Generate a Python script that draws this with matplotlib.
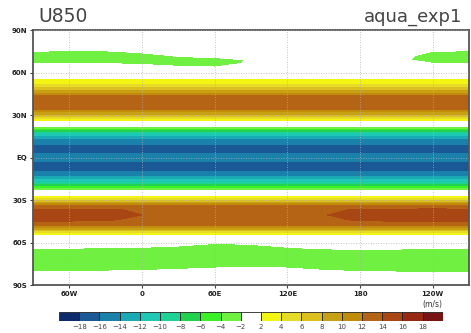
"""U850 aqua_exp1: lat-lon shaded zonal wind in GrADS style."""

import matplotlib

matplotlib.use("Agg")

import matplotlib.pyplot as plt  # noqa: E402
import numpy as np  # noqa: E402

# zonal profile (north to south)
lat_nodes = [90, 84, 78, 75, 72, 69, 66.5, 63, 59, 55.5,
             52, 49, 46, 43, 40, 37, 34, 31, 28, 26,
             24, 22, 20, 18, 16, 14, 11, 8, 5, 2.5,
             0, -2.5, -5, -8, -10.5, -13, -15.5, -18, -20.5, -23,
             -25, -27, -29.5, -32, -34, -37, -40.5, -44, -47, -49.5,
             -52, -54.5, -57, -61, -64, -67, -72, -77, -80.5, -84,
             -90]
u_zonal = [0.5, 0, -1, -2, -3.2, -3.2, -2, -0.5, 0.8, 2,
           4, 6.5, 9.5, 12.6, 13.6, 13.5, 12, 9, 5, 2,
           0, -2, -5, -8.5, -11.5, -13.5, -15, -16.5, -16.8, -15.5,
           -15.2, -15.6, -16.8, -16.6, -15.5, -14, -12, -9, -5.5, -2,
           0, 2, 5.5, 9.5, 12, 13.8, 14.3, 13.6, 13.0, 10.5,
           6, 2, 0.5, -1, -2, -3, -3.5, -3, -2, -1,
           0]

# longitudes of the rows below (90W .. 90W going east)
lon_nodes = [-90, -60, -30, 0, 30, 60, 90, 120, 150, 180, 210, 240, 270]

# rows that change with longitude (polar easterlies, southern jet core)
u_rows = {
    75: [-1.9, -2.3, -2.1, -1.6, -1.2, -1.0, -0.8, -0.6, -0.6, -0.7, -1.0, -2.0, -2.1],
    72: [-3.0, -3.2, -3.1, -2.6, -1.8, -1.6, -1.3, -0.9, -0.8, -0.9, -1.2, -2.7, -3.0],
    69: [-3.2, -3.3, -3.2, -3.0, -2.6, -2.4, -1.9, -1.2, -1.0, -1.1, -1.5, -2.8, -3.1],
    66.5: [-1.95, -2.1, -2.1, -2.3, -2.6, -2.6, -1.8, -1.2, -1.0, -1.0, -1.3, -2.0, -1.9],
    63: [-0.5, -0.6, -0.7, -1.0, -1.6, -1.8, -1.2, -0.6, -0.5, -0.5, -0.6, -0.7, -0.5],
    -37: [14.5, 14.4, 14.2, 13.8, 13.5, 13.5, 13.5, 13.5, 13.6, 14.2, 14.5, 14.6, 14.5],
    -40.5: [15.3, 15.3, 14.9, 14.0, 13.8, 13.8, 13.8, 13.8, 13.9, 14.9, 15.3, 15.4, 15.3],
    -44: [14.5, 14.4, 14.2, 13.6, 13.4, 13.4, 13.4, 13.4, 13.6, 14.2, 14.5, 14.6, 14.5],
    -61: [-1.0, -1.0, -1.1, -1.2, -1.5, -2.1, -1.9, -1.3, -1.0, -0.9, -0.9, -1.0, -1.0],
    -64: [-2.0, -2.0, -2.1, -2.2, -2.5, -2.8, -2.7, -2.2, -1.8, -1.6, -1.7, -2.0, -2.0],
    -77: [-3.0, -3.0, -2.9, -2.7, -2.5, -2.2, -2.1, -2.2, -2.6, -2.9, -3.0, -3.1, -3.1],
    -80.5: [-2.1, -2.0, -1.9, -1.8, -1.6, -1.5, -1.5, -1.5, -1.8, -2.0, -2.1, -2.2, -2.3],
}

levels = [-18, -16, -14, -12, -10, -8, -6, -4, -2, 2, 4, 6, 8, 10, 12, 14, 16, 18]
level_colors = [
    "#0c2a6c", "#1a5896", "#1a82aa", "#1aaab4", "#1ec8b4", "#1ed296",
    "#20d250", "#3cf028", "#70f040", "#ffffff", "#f5f514", "#e6dc28",
    "#dcbe1e", "#c8a014", "#c08c0a", "#b46414", "#a84614", "#962814",
    "#781414",
]

lon_ticks = [-60, 0, 60, 120, 180, 240]
lon_labels = ["60W", "0", "60E", "120E", "180", "120W"]
lat_ticks = [90, 60, 30, 0, -30, -60, -90]
lat_labels = ["90N", "60N", "30N", "EQ", "30S", "60S", "90S"]

# build the grid: zonal profile, replaced by the longitude rows where read
lat = np.array(lat_nodes, dtype=float)
lon = np.array(lon_nodes, dtype=float)
field = np.repeat(np.array(u_zonal, dtype=float)[:, None], len(lon), axis=1)
for row_lat, values in u_rows.items():
    field[lat_nodes.index(row_lat), :] = values
order = np.argsort(lat)
lat, field = lat[order], field[order]

fig = plt.figure(figsize=(4.71, 3.33), dpi=100)
ax = fig.add_axes([0.0701, 0.1441, 0.9257, 0.7658])

bounds = [-1000] + levels + [1000]
ax.contourf(lon, lat, field, levels=bounds, colors=level_colors)

ax.set_xlim(-90, 270)
ax.set_ylim(-90, 90)
ax.set_xticks(lon_ticks)
ax.set_xticklabels(lon_labels)
ax.set_yticks(lat_ticks)
ax.set_yticklabels(lat_labels)
ax.tick_params(direction="out", length=2.5, width=0.8, color="#444444",
               labelsize=5, pad=1.5, labelcolor="#222222")
for label in ax.get_xticklabels() + ax.get_yticklabels():
    label.set_fontweight("bold")
ax.grid(True, linestyle=(0, (1, 2)), color="#b0b0b0", linewidth=0.6)
ax.set_axisbelow(False)
for spine in ax.spines.values():
    spine.set_color("#555555")
    spine.set_linewidth(1.3)

ax.text(0.012, 1.015, "U850", transform=ax.transAxes, ha="left", va="bottom",
        fontsize=13.5, color="#444444")
ax.text(0.985, 1.015, "aqua_exp1", transform=ax.transAxes, ha="right", va="bottom",
        fontsize=13, color="#444444")

# colorbar: equal boxes, labels on the box edges
cax = fig.add_axes([0.1253, 0.036, 0.815, 0.027])
positions = np.arange(len(level_colors))
cax.bar(positions, np.ones(len(level_colors)), width=1.0, align="edge",
        color=level_colors, edgecolor="#222222", linewidth=0.6)
cax.set_xlim(0, len(level_colors))
cax.set_ylim(0, 1)
cax.set_yticks([])
cax.set_xticks(positions[1:])
cax.set_xticklabels([str(v).replace("-", "\u2212") for v in levels])
cax.tick_params(length=0, labelsize=5, pad=2, labelcolor="#444444")
for spine in cax.spines.values():
    spine.set_visible(False)

fig.text(0.919, 0.085, "(m/s)", ha="center", va="center", fontsize=5.5,
         color="#333333")

fig.savefig("out.png", dpi=100)
plt.close(fig)
